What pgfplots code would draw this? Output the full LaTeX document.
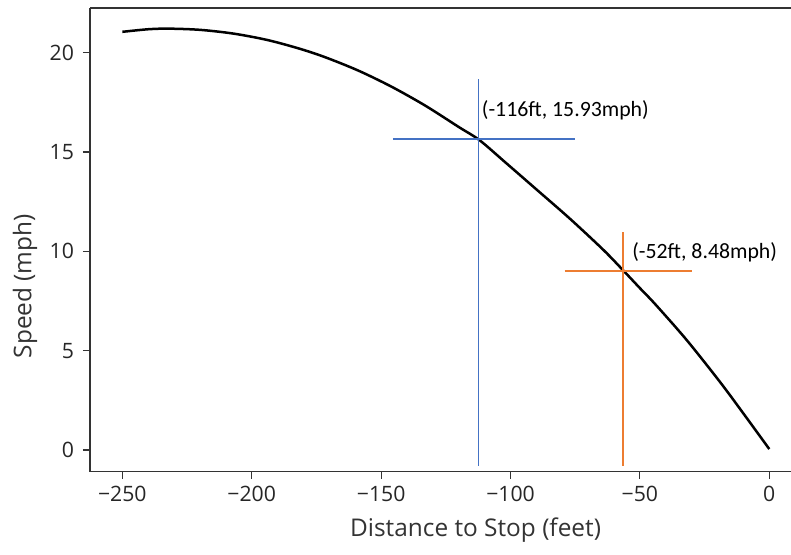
\documentclass[border=0pt]{standalone}
\usepackage{fontspec}
\setmainfont{Open Sans}
\newfontfamily\annfont{Carlito}
\usepackage{pgfplots}
\pgfplotsset{compat=1.18}
\definecolor{annblue}{HTML}{4472C4}
\definecolor{annorange}{HTML}{ED7D31}
\definecolor{spine}{HTML}{333333}

\begin{document}
\begin{tikzpicture}
\useasboundingbox (0,0) rectangle (395.5pt,277.5pt);
\begin{axis}[
  at={(45pt,41.65pt)}, anchor=south west,
  scale only axis, width=350.5pt, height=231.85pt,
  xmin=-262.5, xmax=8.4, ymin=-1.09, ymax=22.25,
  axis x line*=bottom, axis y line*=left,
  axis line style={-, spine, line width=0.8pt},
  xtick={-250,-200,-150,-100,-50,0},
  xticklabels={−250,−200,−150,−100,−50,0},
  ytick={0,5,10,15,20},
  yticklabels={0,5,10,15,20},
  tick align=outside, major tick length=3.5pt,
  tick style={spine, line width=0.6pt},
  tick label style={font=\fontsize{10.6}{12}\selectfont, text=black!85},
  yticklabel style={xshift=-1pt},
  xlabel={Distance to Stop (feet)}, ylabel={Speed (mph)},
  label style={font=\fontsize{12.2}{14}\selectfont, text=black!80, inner sep=0pt},
  xlabel style={at={(axis description cs:0.55,-0.1257)}, anchor=center},
  ylabel style={at={(axis description cs:-0.0927,0.40)}, anchor=center},
  clip=false,
]
% speed curve
\addplot[black, line width=1.25pt, smooth] coordinates {
(-250,21.05) (-240,21.18) (-232,21.21) (-220,21.15) (-207,20.96)
(-194,20.64) (-182,20.22) (-172,19.79) (-159,19.11) (-146,18.29)
(-133,17.34) (-120,16.26) (-112,15.60) (-102,14.48) (-90,13.12)
(-77,11.64) (-64,10.06) (-56,8.98) (-50,8.15) (-44,7.33)
(-32,5.55) (-19,3.42) (-10,1.84) (0,0.05)
};
% blue cross
\addplot[annblue, line width=0.8pt] coordinates {(-112.3,-0.8) (-112.3,18.67)};
\addplot[annblue, line width=0.8pt] coordinates {(-145.5,15.65) (-74.9,15.65)};
% orange cross
\addplot[annorange, line width=0.9pt] coordinates {(-56.4,-0.8) (-56.4,10.96)};
\addplot[annorange, line width=0.9pt] coordinates {(-79.1,9.02) (-29.9,9.02)};
\node[anchor=west, inner sep=0pt, font=\annfont\fontsize{10.9}{12}\selectfont]
  at (axis cs:-111.2,17.11) {(-116ft, 15.93mph)};
\node[anchor=west, inner sep=0pt, font=\annfont\fontsize{10.9}{12}\selectfont]
  at (axis cs:-53.1,9.93) {(-52ft, 8.48mph)};
\draw[spine, line width=0.8pt] (rel axis cs:0,1) -- (rel axis cs:1,1);
\end{axis}
\end{tikzpicture}
\end{document}
